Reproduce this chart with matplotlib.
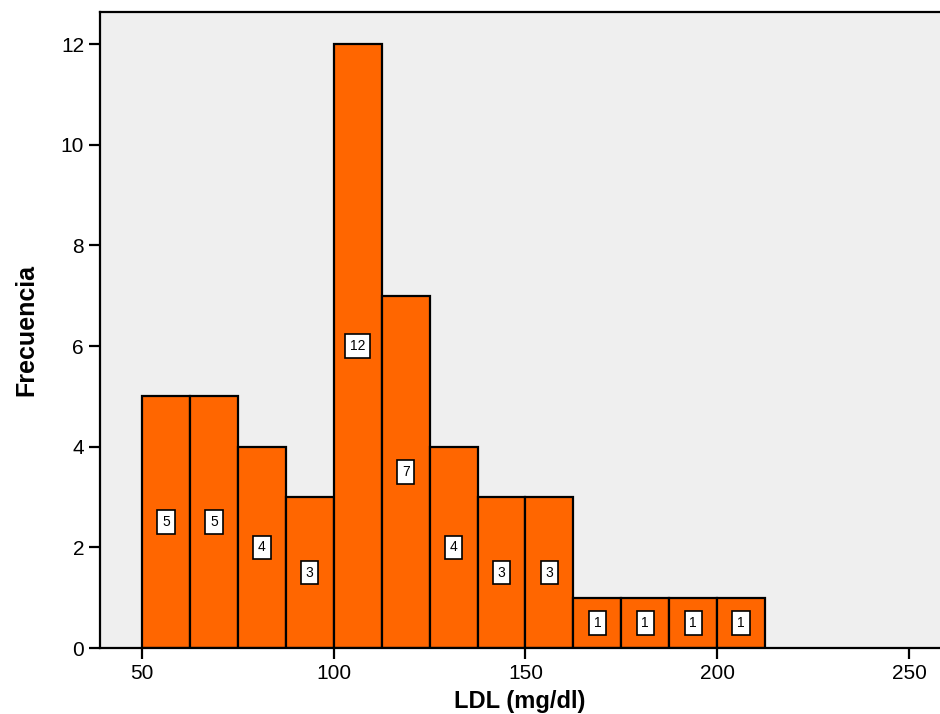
import numpy as np
import matplotlib
matplotlib.use('Agg')
import matplotlib.pyplot as plt

# histogram bins of LDL (mg/dl), width 12.5
bin_edges = [50, 62.5, 75, 87.5, 100, 112.5, 125, 137.5, 150, 162.5, 175, 187.5, 200, 212.5]
counts = [5, 5, 4, 3, 12, 7, 4, 3, 3, 1, 1, 1, 1]
xticks = [50, 100, 150, 200, 250]
yticks = [0, 2, 4, 6, 8, 10, 12]

plt.rcParams['font.family'] = ['Liberation Sans', 'DejaVu Sans']

fig = plt.figure(figsize=(9.4, 7.14), dpi=100)
ax = fig.add_axes([100/940, 66/714, 840/940, 636/714])
ax.set_facecolor('#efefef')

edges = np.array(bin_edges)
widths = np.diff(edges)
ax.bar(edges[:-1], counts, width=widths, align='edge', color='#ff6600',
       edgecolor='black', linewidth=1.6, zorder=2)

for left, w, c in zip(edges[:-1], widths, counts):
    ax.text(left + w / 2, c / 2, str(c), ha='center', va='center', fontsize=10,
            bbox=dict(boxstyle='square,pad=0.35', fc='white', ec='black', lw=1.2), zorder=3)

ax.set_xlim(39.05, 258.1)
ax.set_ylim(0, 12.64)
ax.set_xticks(xticks)
ax.set_yticks(yticks)
ax.tick_params(axis='both', labelsize=15, width=1.6, length=8, color='black')

for s in ['left', 'top', 'bottom']:
    ax.spines[s].set_linewidth(1.6)
ax.spines['right'].set_visible(False)

ax.set_xlabel('LDL (mg/dl)', fontsize=17, fontweight='bold', labelpad=5)
ax.set_ylabel('Frecuencia', fontsize=18, fontweight='bold', labelpad=16)

fig.savefig('out.png', dpi=100)
